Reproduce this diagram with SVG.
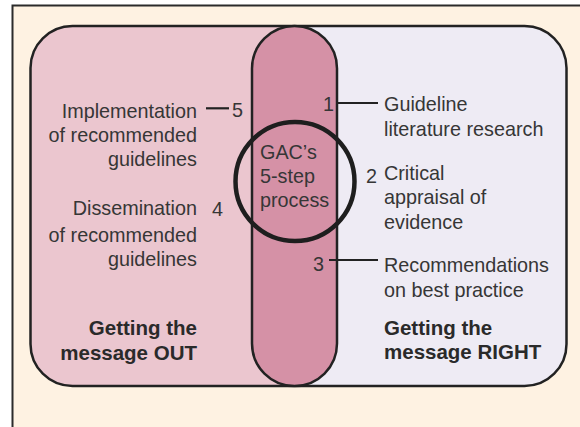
<svg xmlns="http://www.w3.org/2000/svg" width="580" height="427" viewBox="0 0 580 427">
  <style>
    .t { font-family: "Liberation Sans", Arial, sans-serif; font-size: 19.8px; fill: #363636; }
    .b { font-family: "Liberation Sans", Arial, sans-serif; font-size: 20.5px; font-weight: bold; fill: #2a2a2a; }
    .r { text-anchor: end; }
    .edge { stroke: #222; stroke-width: 2.2; fill: none; }
    .outline { stroke: #222; stroke-width: 2.5; }
  </style>
  <defs>
    <clipPath id="panelClip">
      <rect x="30.5" y="26" width="536" height="360" rx="42" ry="42"/>
    </clipPath>
  </defs>

  <!-- page and frame -->
  <rect x="0" y="0" width="580" height="427" fill="#ffffff"/>
  <rect x="12.5" y="5.5" width="580" height="440" fill="#FEF2E2" stroke="#2b2b2b" stroke-width="2"/>

  <!-- two halves of the panel -->
  <g id="panel">
    <g clip-path="url(#panelClip)">
      <rect x="30" y="20" width="265" height="370" fill="#EBC6CF"/>
      <rect x="295" y="20" width="275" height="370" fill="#EEEBF4"/>
    </g>
    <rect x="30.5" y="26" width="536" height="360" rx="42" ry="42" fill="none" class="outline"/>
  </g>

  <!-- central process column -->
  <g id="process-column">
    <rect x="252" y="26" width="85" height="360" rx="42.5" ry="42.5" fill="#D591A6" class="outline"/>
  </g>

  <!-- GAC ring -->
  <g id="gac-process">
    <circle cx="295" cy="181.5" r="59.5" fill="none" stroke="#1e1e1e" stroke-width="4.5"/>
    <text class="t" x="260" y="159">GAC’s</text>
    <text class="t" x="260" y="183">5-step</text>
    <text class="t" x="260" y="207">process</text>
  </g>

  <!-- connectors -->
  <g id="connectors">
    <line class="edge" x1="206" y1="108.3" x2="229" y2="108.3" stroke-width="3"/>
    <line class="edge" x1="337" y1="103" x2="378" y2="103"/>
    <line class="edge" x1="329" y1="260" x2="378" y2="260"/>
  </g>

  <!-- step 1 -->
  <g id="step-1">
    <text class="t" x="323" y="111">1</text>
    <text class="t" x="384" y="111">Guideline</text>
    <text class="t" x="384" y="136">literature research</text>
  </g>

  <!-- step 2 -->
  <g id="step-2">
    <text class="t" x="366" y="183">2</text>
    <text class="t" x="384" y="180">Critical</text>
    <text class="t" x="384" y="204">appraisal of</text>
    <text class="t" x="384" y="229">evidence</text>
  </g>

  <!-- step 3 -->
  <g id="step-3">
    <text class="t" x="313" y="271">3</text>
    <text class="t" x="384" y="272">Recommendations</text>
    <text class="t" x="384" y="297">on best practice</text>
  </g>

  <!-- step 4 -->
  <g id="step-4">
    <text class="t" x="212" y="216">4</text>
    <text class="t r" x="197" y="215">Dissemination</text>
    <text class="t r" x="197" y="242">of recommended</text>
    <text class="t r" x="197" y="266">guidelines</text>
  </g>

  <!-- step 5 -->
  <g id="step-5">
    <text class="t" x="232" y="117">5</text>
    <text class="t r" x="197" y="118">Implementation</text>
    <text class="t r" x="197" y="142">of recommended</text>
    <text class="t r" x="197" y="166">guidelines</text>
  </g>

  <!-- side headings -->
  <g id="heading-out">
    <text class="b r" x="197" y="335">Getting the</text>
    <text class="b r" x="197" y="360">message OUT</text>
  </g>
  <g id="heading-right">
    <text class="b" x="384" y="335">Getting the</text>
    <text class="b" x="384" y="359">message RIGHT</text>
  </g>
</svg>
